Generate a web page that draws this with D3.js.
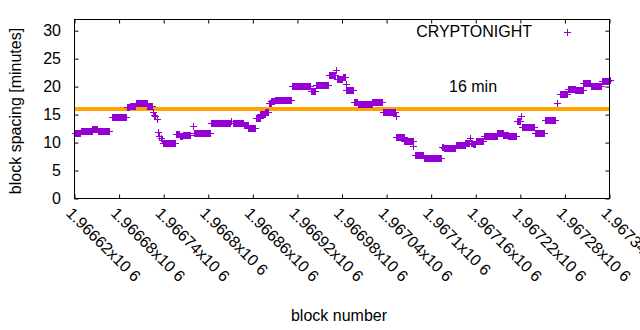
<!DOCTYPE html>
<html><head><meta charset="utf-8">
<script src="https://cdn.jsdelivr.net/npm/d3@7"></script>
<style>body{margin:0;background:#fff}svg{display:block}text{font-family:"Liberation Sans",Arial,sans-serif;font-size:16px;fill:#000}</style>
</head><body><svg id="c" width="640" height="330"></svg>
<script>
// runs of blocks with equal spacing value (first block, last block, minutes)
const runFirst = [1966620,1966629,1966644,1966651,1966670,1966690,1966695,1966703,1966718,1966725,1966727,1966729,1966731,1966732,1966734,1966736,1966738,1966739,1966756,1966762,1966766,1966779,1966781,1966804,1966831,1966833,1966848,1966854,1966864,1966870,1966877,1966882,1966885,1966890,1966913,1966938,1966945,1966962,1966972,1966973,1966982,1966985,1966986,1966996,1967001,1967021,1967035,1967052,1967053,1967064,1967076,1967078,1967090,1967114,1967117,1967133,1967146,1967152,1967153,1967156,1967160,1967171,1967189,1967197,1967204,1967215,1967221,1967222,1967240,1967253,1967269,1967273,1967284,1967294,1967305,1967315,1967330,1967339];
const runLast  = [1966628,1966643,1966650,1966666,1966689,1966694,1966702,1966717,1966724,1966725,1966727,1966729,1966731,1966732,1966734,1966736,1966738,1966755,1966761,1966765,1966776,1966779,1966803,1966829,1966831,1966847,1966853,1966863,1966869,1966876,1966881,1966884,1966889,1966912,1966937,1966944,1966961,1966971,1966972,1966980,1966984,1966985,1966995,1967000,1967020,1967034,1967051,1967052,1967063,1967075,1967076,1967089,1967113,1967116,1967132,1967145,1967151,1967152,1967155,1967159,1967170,1967188,1967196,1967203,1967214,1967220,1967221,1967239,1967252,1967267,1967270,1967283,1967293,1967304,1967314,1967329,1967338,1967340];
const runSpacing = [11.7,12.0,12.4,12.0,14.6,16.3,16.6,17.0,16.6,15.4,15.0,14.8,14.2,11.8,11.2,10.8,10.5,10.0,11.5,11.1,11.4,12.9,11.7,13.5,13.9,13.5,13.1,12.6,14.4,15.1,15.5,17.0,17.5,17.6,20.1,19.2,20.3,22.0,23.0,21.3,21.8,20.5,19.4,17.2,16.9,17.3,15.5,14.7,11.0,10.3,9.3,7.7,7.3,9.2,9.1,9.6,10.0,10.8,10.0,9.7,10.2,11.2,11.7,11.4,11.2,13.8,14.8,12.8,11.7,14.1,17.1,18.7,19.6,19.4,20.6,20.1,21.0,21.2];
const xTicks = d3.range(1966620, 1967341, 60);
const yTicks = [0,5,10,15,20,25,30];
const targetMinutes = 16;
const seriesName = "CRYPTONIGHT";

const points = [];
runFirst.forEach((f,i)=>{ for(let b=f;b<=runLast[i];b++) points.push({b, v: runSpacing[i]}); });

const svg = d3.select("#c");
const L=74.5, R=609.5, T=19.5, B=198.5;
const x = d3.scaleLinear().domain([1966620,1967340]).range([L,R]);
const y = d3.scaleLinear().domain([0,32]).range([B,T]);

// target line
svg.append("line").attr("x1",L).attr("x2",R).attr("y1",y(targetMinutes)).attr("y2",y(targetMinutes))
  .attr("stroke","#ffa500").attr("stroke-width",4);
svg.append("text").attr("x",449).attr("y",91.5).text(targetMinutes+" min");

// points
const plus = "M-3.5,0H3.5M0,-3.5V3.5";
svg.append("g").selectAll("path").data(points).join("path")
  .attr("transform",d=>`translate(${Math.round(x(d.b))+0.5},${Math.round(y(d.v))+0.5})`)
  .attr("d",plus).attr("stroke","#9400d3").attr("stroke-width",1).attr("fill","none");

// axes: ticks inside, mirrored
const ax = g=>g.selectAll(".domain").remove();
svg.append("g").attr("transform",`translate(0,${B})`)
  .call(d3.axisBottom(x).tickValues(xTicks).tickSize(-4).tickFormat(""))
  .call(ax);
svg.append("g").attr("transform",`translate(0,${T})`)
  .call(d3.axisTop(x).tickValues(xTicks).tickSize(-4).tickFormat(""))
  .call(ax);
svg.append("g").attr("transform",`translate(${L},0)`)
  .call(d3.axisLeft(y).tickValues(yTicks).tickSize(-4).tickFormat(""))
  .call(ax);
svg.append("g").attr("transform",`translate(${R},0)`)
  .call(d3.axisRight(y).tickValues(yTicks).tickSize(-4).tickFormat(""))
  .call(ax);
svg.selectAll(".tick line").attr("stroke","#000");

svg.append("rect").attr("x",L).attr("y",T).attr("width",R-L).attr("height",B-T)
  .attr("fill","none").attr("stroke","#000").attr("stroke-width",1);

// y labels
svg.append("g").selectAll("text").data(yTicks).join("text")
  .attr("x",61).attr("y",d=>y(d)).attr("dy","0.36em").attr("text-anchor","end").text(d=>d);

// x labels rotated
const fmt = v => String(+(v/1e6).toFixed(5));
svg.append("g").selectAll("text").data(xTicks).join("text")
  .attr("transform",d=>`translate(${x(d)-1},${206}) rotate(45)`)
  .attr("dy","0.72em").text(d=>fmt(d)+"x10 6");

// axis titles
svg.append("text").attr("x",339).attr("y",321).attr("text-anchor","middle").text("block number");
svg.append("text").attr("transform","translate(21,111) rotate(-90)").attr("text-anchor","middle").text("block spacing [minutes]");

// legend
svg.append("text").attr("x",532).attr("y",37).attr("text-anchor","end").text(seriesName);
svg.append("path").attr("transform","translate(567.5,32.5)").attr("d",plus).attr("stroke","#9400d3").attr("fill","none");
</script></body></html>
